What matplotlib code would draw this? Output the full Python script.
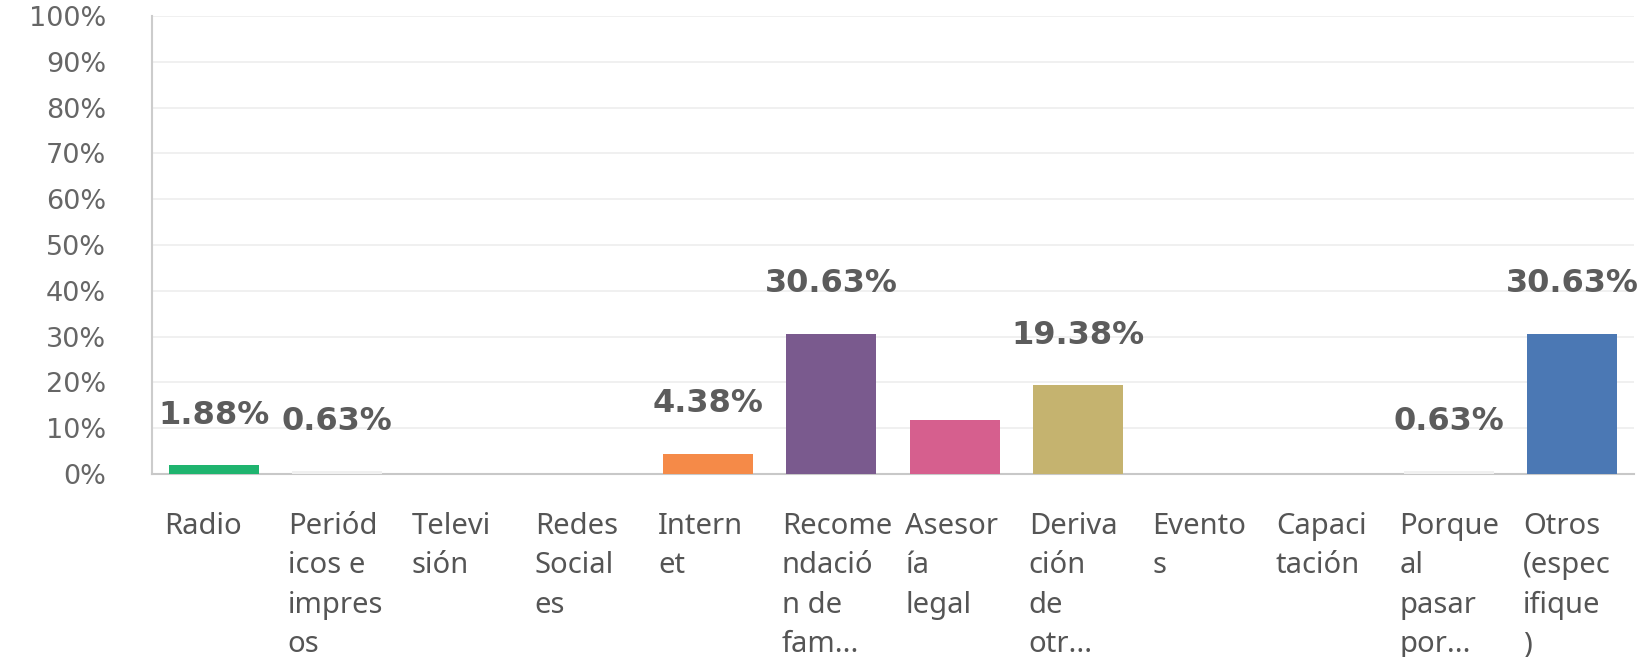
import matplotlib
matplotlib.use("Agg")
import matplotlib.pyplot as plt
import matplotlib.transforms as mtransforms

labels = [
    "Radio",
    "Periód\nicos e\nimpres\nos",
    "Televi\nsión",
    "Redes\nSocial\nes",
    "Intern\net",
    "Recome\nndació\nn de\nfam...",
    "Asesor\nía\nlegal",
    "Deriva\nción\nde\notr...",
    "Evento\ns",
    "Capaci\ntación",
    "Porque\nal\npasar\npor...",
    "Otros\n(espec\nifique\n)",
]
values = [1.88, 0.63, 0.0, 0.0, 4.38, 30.63, 11.88, 19.38, 0.0, 0.0, 0.63, 30.63]
show_label = [True, True, False, False, True, True, False, True, False, False, True, True]
colors = ["#1fb46f", "#f0f0f0", "#f0f0f0", "#f0f0f0", "#f58a48", "#7a5a8e",
          "#d65f8e", "#c5b36f", "#f0f0f0", "#f0f0f0", "#f0f0f0", "#4b78b4"]
yticks = list(range(0, 101, 10))

W, H = 1645, 657
fig = plt.figure(figsize=(W / 100, H / 100), dpi=100)
left, right, top, bottom = 152, 1634, 16, 474
ax = fig.add_axes([left / W, 1 - bottom / H, (right - left) / W, (bottom - top) / H])

x = list(range(len(values)))
ax.bar(x, values, width=0.73, color=colors, zorder=3)
ax.set_xlim(-0.5, len(values) - 0.5)
ax.set_ylim(0, 100)
ax.set_yticks(yticks)
ax.set_yticklabels([f"{t}%" for t in yticks], fontsize=19.5, color="#666666",
                   family="DejaVu Sans")
ax.tick_params(axis="y", length=0, pad=33)
ax.set_xticks([])
ax.grid(axis="y", color="#eeeeee", linewidth=1.2, zorder=0)

for side in ["top", "right"]:
    ax.spines[side].set_visible(False)
ax.spines["left"].set_color("#cccccc")
ax.spines["left"].set_linewidth(1.5)
ax.spines["bottom"].set_color("#c8c8c8")
ax.spines["bottom"].set_linewidth(1.5)

for i, (v, s) in enumerate(zip(values, show_label)):
    if s:
        ax.annotate(f"{v:.2f}%", xy=(i, v), xytext=(0, 50), textcoords="offset pixels",
                    ha="center", va="center", fontsize=23, fontweight="bold",
                    color="#5c5c5c", family="DejaVu Sans", zorder=4)

trans = mtransforms.blended_transform_factory(ax.transData, ax.transAxes)
for i, lab in enumerate(labels):
    ax.text(i - 0.40, -0.082, lab, transform=trans, ha="left", va="top",
            fontsize=21, color="#555555", family="Noto Sans", linespacing=1.48)

fig.savefig("out.png", dpi=100, facecolor="white")
